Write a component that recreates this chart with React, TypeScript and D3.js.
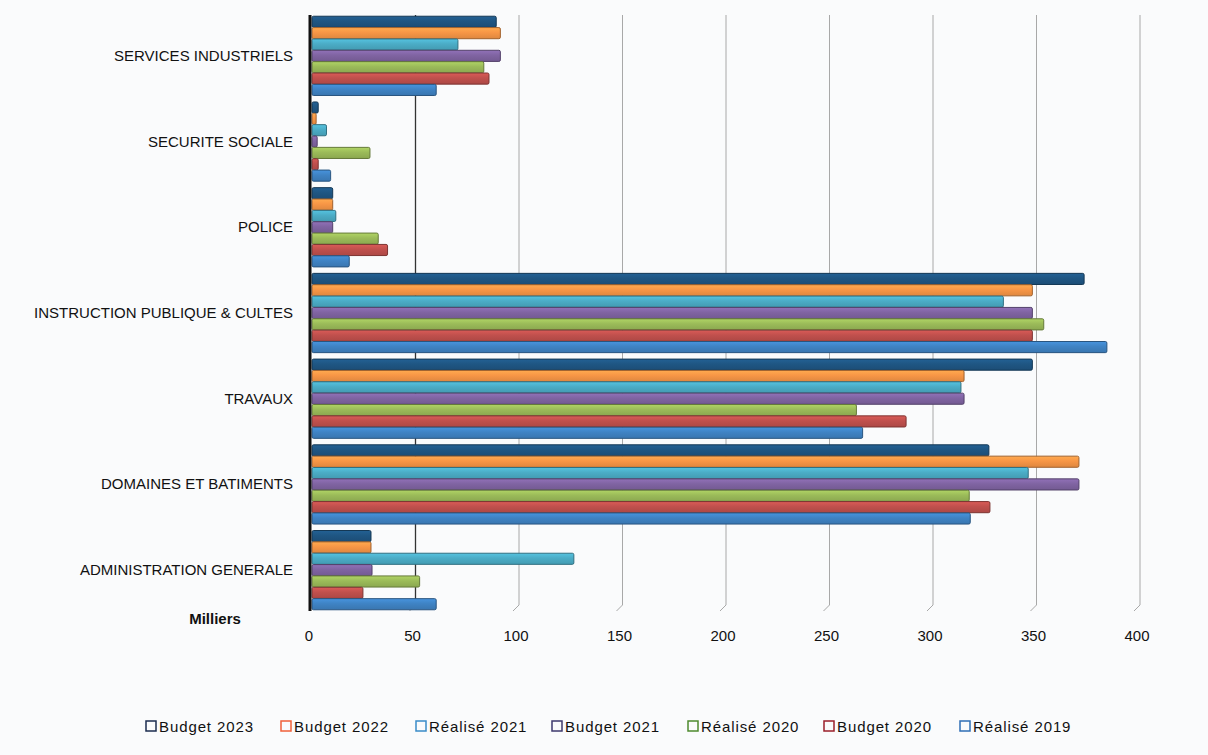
import * as d3 from 'd3';
import React, { useEffect, useRef } from 'react';

// categories, top to bottom
const categories = [
	"SERVICES INDUSTRIELS",
	"SECURITE SOCIALE",
	"POLICE",
	"INSTRUCTION PUBLIQUE & CULTES",
	"TRAVAUX",
	"DOMAINES ET BATIMENTS",
	"ADMINISTRATION GENERALE",
];

const seriesNames = [
	"Budget 2023",
	"Budget 2022",
	"Réalisé 2021",
	"Budget 2021",
	"Réalisé 2020",
	"Budget 2020",
	"Réalisé 2019",
];

const seriesColors = ["#1f5683", "#f79646", "#4bacc6", "#8064a2", "#9bbb59", "#c0504d", "#3f83c4"];
const legendColors = ["#1b2d4f", "#f0603a", "#3a8cc8", "#3e3a6e", "#4e8a2e", "#9a1f2a", "#2f6fb5"];

// values in milliers, one array per series, same order as categories
const budget2023 = [89, 3, 10, 373, 348, 327, 28.5];
const budget2022 = [91, 2, 10, 348, 315, 370.5, 28.5];
const realise2021 = [70.5, 7, 11.5, 334, 313.5, 346, 126.5];
const budget2021 = [91, 2.5, 10, 348, 315, 370.5, 29];
const realise2020 = [83, 28, 32, 353.5, 263, 317.5, 52];
const budget2020 = [85.5, 3, 36.5, 348, 287, 327.5, 24.6];
const realise2019 = [60, 9, 18, 384, 266, 318, 60];

const seriesValues = [budget2023, budget2022, realise2021, budget2021, realise2020, budget2020, realise2019];

const xTicks = [0, 50, 100, 150, 200, 250, 300, 350, 400];

const W = 1208;
const H = 755;
const font = "'Liberation Sans', Arial, sans-serif";

const App = () => {
	const svgRef = useRef<SVGSVGElement | null>(null);

	useEffect(() => {
		const svg = d3.select(svgRef.current);
		svg.selectAll("*").remove();

		const left = 312;
		const top = 13;
		const plotH = 600;

		const x = d3.scaleLinear().domain([0, 400]).range([left, left + 828]);
		const y = d3.scaleBand().domain(categories).range([top, top + plotH]).paddingInner(0.07).paddingOuter(0.035);
		const ys = d3.scaleBand().domain(seriesNames).range([0, y.bandwidth()]).padding(0.02);

		svg.append("rect").attr("width", W).attr("height", H).attr("fill", "#fafbfc");

		// gridlines with small perspective foot
		const grid = svg.append("g");
		xTicks.slice(1).forEach((t) => {
			const gx = x(t);
			grid.append("line")
				.attr("x1", gx).attr("x2", gx)
				.attr("y1", top + 2).attr("y2", top + plotH - 8)
				.attr("stroke", t === 50 ? "#333" : "#a8a8a8")
				.attr("stroke-width", t === 50 ? 1.3 : 1);
			grid.append("line")
				.attr("x1", gx).attr("x2", gx - 6)
				.attr("y1", top + plotH - 8).attr("y2", top + plotH - 2)
				.attr("stroke", "#a8a8a8");
		});

		// bars
		const defs = svg.append("defs");
		seriesColors.forEach((c, i) => {
			const g = defs.append("linearGradient").attr("id", `g${i}`).attr("x1", 0).attr("x2", 0).attr("y1", 0).attr("y2", 1);
			g.append("stop").attr("offset", "0%").attr("stop-color", d3.color(c)!.brighter(0.35).formatHex());
			g.append("stop").attr("offset", "45%").attr("stop-color", c);
			g.append("stop").attr("offset", "100%").attr("stop-color", d3.color(c)!.darker(0.3).formatHex());
		});

		const cells = categories.flatMap((cat, ci) =>
			seriesNames.map((s, si) => ({ cat, s, si, value: seriesValues[si][ci] }))
		);

		svg.append("g")
			.selectAll("rect")
			.data(cells)
			.join("rect")
			.attr("x", x(0))
			.attr("y", (d) => (y(d.cat) as number) + (ys(d.s) as number))
			.attr("width", (d) => x(d.value) - x(0))
			.attr("height", ys.bandwidth())
			.attr("rx", 1.5)
			.attr("fill", (d) => `url(#g${d.si})`)
			.attr("stroke", (d) => d3.color(seriesColors[d.si])!.darker(1.2).formatHex())
			.attr("stroke-width", 1);

		// vertical axis line
		svg.append("line")
			.attr("x1", x(0) - 2).attr("x2", x(0) - 2)
			.attr("y1", top + 2).attr("y2", top + plotH - 2)
			.attr("stroke", "#111").attr("stroke-width", 3);

		// category labels
		svg.append("g")
			.selectAll("text")
			.data(categories)
			.join("text")
			.attr("x", 293)
			.attr("y", (d) => (y(d) as number) + y.bandwidth() / 2 + 5)
			.attr("text-anchor", "end")
			.style("font-family", font)
			.style("font-size", "15px")
			.attr("fill", "#111")
			.text((d) => d);

		// x tick labels
		svg.append("g")
			.selectAll("text")
			.data(xTicks)
			.join("text")
			.attr("x", (d) => x(d) - 3)
			.attr("y", 641)
			.attr("text-anchor", "middle")
			.style("font-family", font)
			.style("font-size", "15px")
			.attr("fill", "#111")
			.text((d) => d);

		svg.append("text")
			.attr("x", 215).attr("y", 624)
			.attr("text-anchor", "middle")
			.style("font-family", font)
			.style("font-size", "15px")
			.style("font-weight", "bold")
			.attr("fill", "#111")
			.text("Milliers");

		// legend
		const legendX = [146, 281, 416, 552, 688, 824, 960];
		const lg = svg.append("g");
		seriesNames.forEach((s, i) => {
			lg.append("rect")
				.attr("x", legendX[i]).attr("y", 721)
				.attr("width", 10).attr("height", 10)
				.attr("fill", "none")
				.attr("stroke", legendColors[i]).attr("stroke-width", 1.5);
			lg.append("text")
				.attr("x", legendX[i] + 13).attr("y", 732)
				.style("font-family", font)
				.style("font-size", "15px")
				.style("letter-spacing", "0.9px")
				.attr("fill", "#111")
				.text(s);
		});
	}, []);

	return (
		<svg
			ref={svgRef}
			width={W}
			height={H}
			style={{ position: "absolute", left: 0, top: 0, display: "block" }}
		/>
	);
};

export default App;
